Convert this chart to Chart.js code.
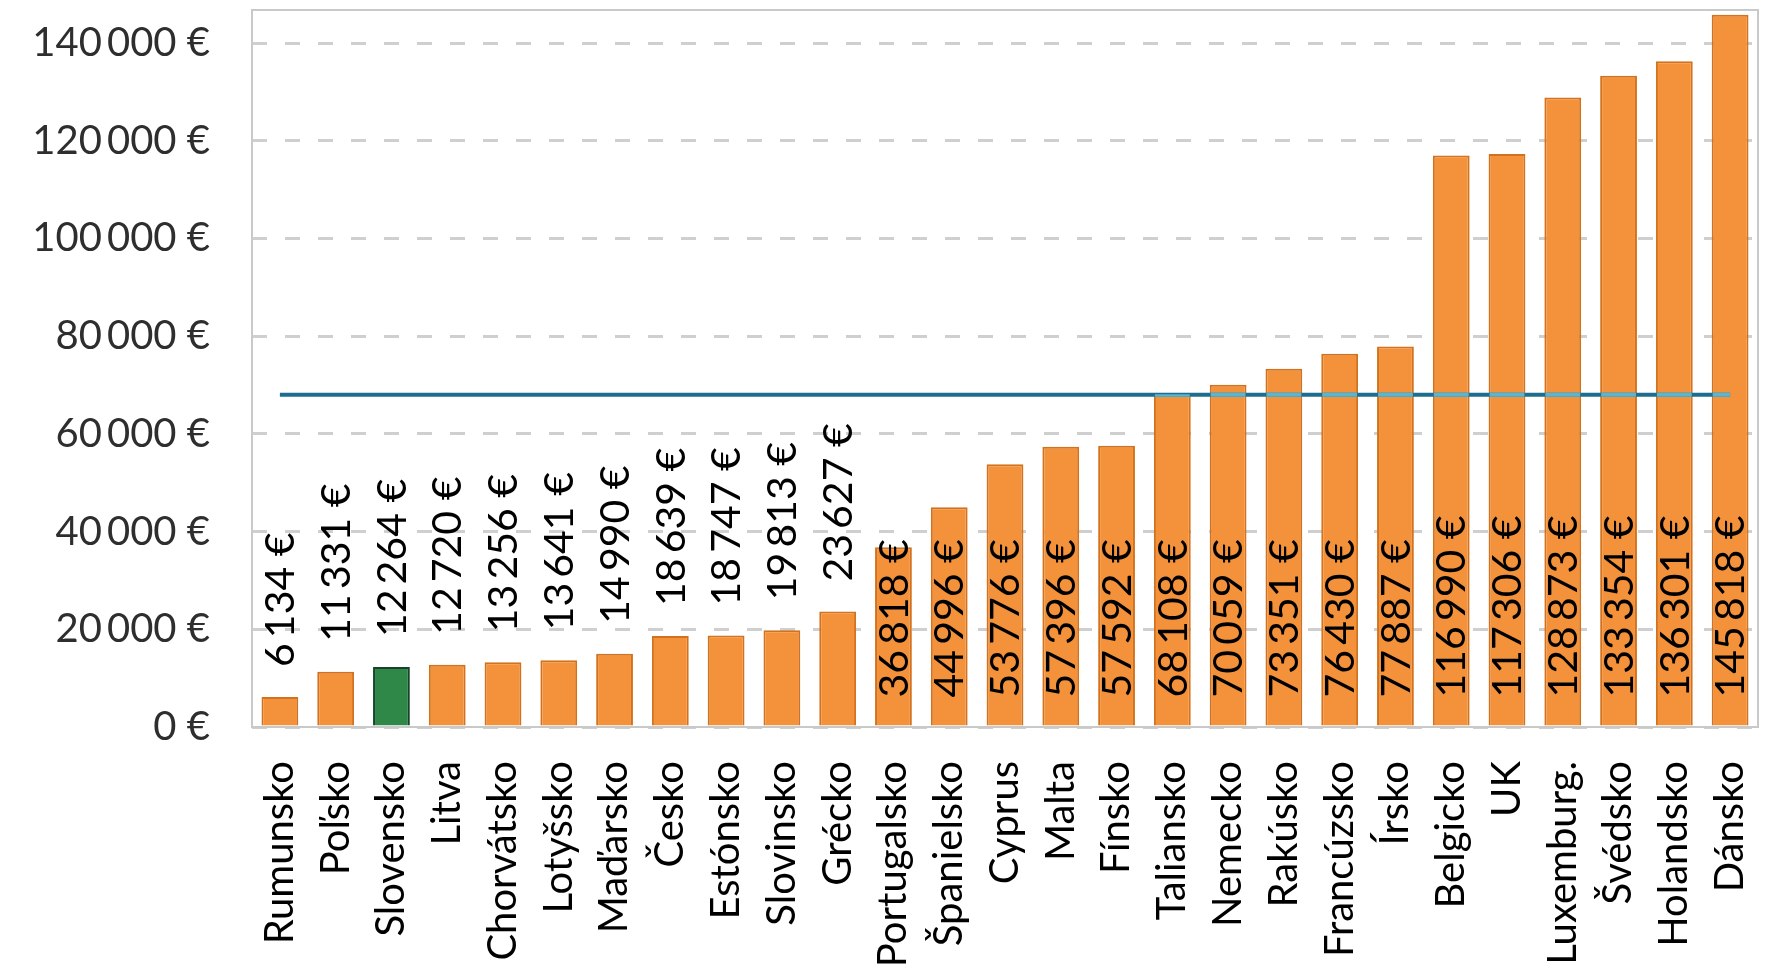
<!DOCTYPE html>
<html lang="sk">
<head>
<meta charset="utf-8">
<title>Graf</title>
<script src="https://cdn.jsdelivr.net/npm/chart.js@4.4.1/dist/chart.umd.min.js"></script>
<style>
  html, body { margin: 0; padding: 0; background: #fff; }
  canvas { display: block; }
</style>
</head>
<body>
<canvas id="graf" width="1783" height="965"></canvas>
<script>
// ==============================
// DATA
// ==============================
const krajiny = [
  "Rumunsko", "Poľsko", "Slovensko", "Litva", "Chorvátsko", "Lotyšsko", "Maďarsko",
  "Česko", "Estónsko", "Slovinsko", "Grécko", "Portugalsko", "Španielsko", "Cyprus",
  "Malta", "Fínsko", "Taliansko", "Nemecko", "Rakúsko", "Francúzsko", "Írsko",
  "Belgicko", "UK", "Luxemburg.", "Švédsko", "Holandsko", "Dánsko"
];
const hodnoty = [
  6134, 11331, 12264, 12720, 13256, 13641, 14990,
  18639, 18747, 19813, 23627, 36818, 44996, 53776,
  57396, 57592, 68108, 70059, 73351, 76430, 77887,
  116990, 117306, 128873, 133354, 136301, 145818
];
const priemer = 68000;             // vodorovná čiara
const zvyraznena = "Slovensko";    // zelený stĺpec

// os Y
const osMax = 146800;
const osTicky = [0, 20000, 40000, 60000, 80000, 100000, 120000, 140000];

// ==============================
// FORMAT  "140 000 €"
// ==============================
function formatEur(n) {
  return String(n).replace(/\B(?=(\d{3})+(?!\d))/g, "\u2009") + "\u00A0€";
}

// ==============================
// PLUGINY
// ==============================
const ramik = {
  id: "ramik",
  beforeDatasetsDraw(chart) {
    const { ctx, chartArea: a } = chart;
    ctx.save();
    ctx.strokeStyle = "#C9C9C9";
    ctx.lineWidth = 2;
    ctx.strokeRect(a.left, a.top, a.right - a.left, a.bottom - a.top);
    ctx.restore();
  }
};

const popisky = {
  id: "popisky",
  afterDatasetsDraw(chart) {
    const ctx = chart.ctx;
    const ciara = chart.getDatasetMeta(0).data;
    const stlpce = chart.getDatasetMeta(1).data;
    const yCiara = chart.scales.y.getPixelForValue(priemer);
    const x0 = ciara[0].x;
    const x1 = ciara[ciara.length - 1].x;

    stlpce.forEach((bar, i) => {
      const { x, y, base, width } = bar.getProps(["x", "y", "base", "width"], true);

      // svetlá čiara cez stĺpce
      if (y < yCiara) {
        ctx.save();
        ctx.beginPath();
        ctx.rect(x - width / 2 + 1, y, width - 2, base - y);
        ctx.clip();
        ctx.strokeStyle = "#55B7D4";
        ctx.lineWidth = 4;
        ctx.beginPath();
        ctx.moveTo(x0, yCiara);
        ctx.lineTo(x1, yCiara);
        ctx.stroke();
        ctx.restore();
      }

      // hodnota
      const txt = formatEur(hodnoty[i]);
      ctx.save();
      ctx.font = "41px Lato";
      const w = ctx.measureText(txt).width;
      const vnutri = w < base - y;
      ctx.translate(x + 1, vnutri ? base - 28 : y - 30);
      ctx.rotate(-Math.PI / 2);
      ctx.textAlign = "left";
      ctx.textBaseline = "middle";
      ctx.fillStyle = "#000";
      ctx.fillText(txt, 0, 0);
      ctx.restore();
    });
  }
};

// ==============================
// GRAF
// ==============================
new Chart(document.getElementById("graf"), {
  data: {
    labels: krajiny,
    datasets: [
      {
        type: "line",
        data: krajiny.map(() => priemer),
        borderColor: "#1C6D8E",
        borderWidth: 4,
        pointRadius: 0,
        fill: false,
        order: 0
      },
      {
        type: "bar",
        data: hodnoty,
        backgroundColor: krajiny.map(k => k === zvyraznena ? "#2F8748" : "#F3923A"),
        borderColor: krajiny.map(k => k === zvyraznena ? "#17432A" : "#D4711C"),
        borderWidth: 2,
        categoryPercentage: 1,
        barPercentage: 0.66,
        order: 1
      }
    ]
  },
  options: {
    responsive: false,
    animation: false,
    devicePixelRatio: 1,
    layout: { padding: { top: 10, right: 25, bottom: 0, left: 0 } },
    plugins: {
      legend: { display: false },
      tooltip: { enabled: false }
    },
    scales: {
      x: {
        grid: { display: false },
        border: { display: false },
        ticks: {
          autoSkip: false,
          minRotation: 90,
          maxRotation: 90,
          padding: 26,
          color: "#000",
          font: { family: "Lato", size: 40 }
        },
        afterFit(s) {
          s.height = 238;
          s.paddingLeft = 0;
          s.paddingRight = 0;
        }
      },
      y: {
        min: 0,
        max: osMax,
        grid: { color: "#CFCFCF", lineWidth: 3, drawTicks: false },
        border: { display: false, dash: [15, 18] },
        ticks: {
          padding: 42,
          color: "#2E2E2E",
          font: { family: "Lato", size: 40 },
          callback: v => formatEur(v)
        },
        afterBuildTicks(s) {
          s.ticks = osTicky.map(v => ({ value: v }));
        },
        afterFit(s) {
          s.width = 252;
          s.paddingTop = 0;
          s.paddingBottom = 0;
        }
      }
    }
  },
  plugins: [ramik, popisky]
});
</script>
</body>
</html>
